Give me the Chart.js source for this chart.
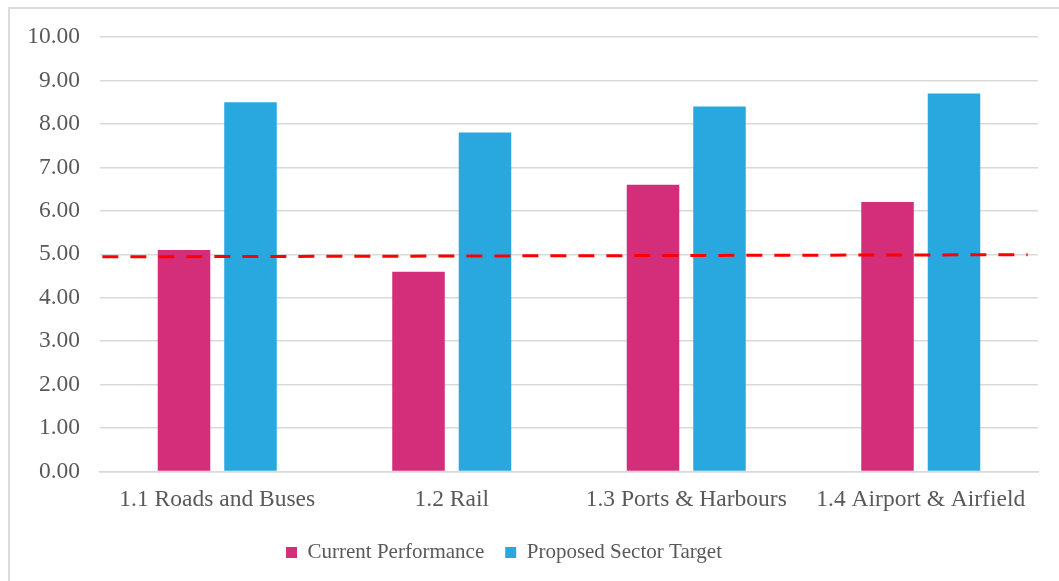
<!DOCTYPE html>
<html>
<head>
<meta charset="utf-8">
<script src="https://cdn.jsdelivr.net/npm/chart.js@4/dist/chart.umd.min.js"></script>
<style>
  html, body { margin: 0; padding: 0; background: #ffffff; }
  #wrap { position: absolute; left: 0; top: 0; width: 1059px; height: 581px; }
  #frame { position: absolute; left: 8px; top: 7px; width: 1060px; height: 580px;
           border-top: 2px solid #dcdcdc; border-left: 2px solid #dcdcdc; pointer-events: none; }
</style>
</head>
<body>
<div id="wrap"><canvas id="c" width="1059" height="581"></canvas></div>
<div id="frame"></div>
<script>
const categories = ['1.1 Roads and Buses', '1.2 Rail', '1.3 Ports & Harbours', '1.4 Airport & Airfield'];
const currentPerformance = [5.1, 4.6, 6.6, 6.2];
const proposedSectorTarget = [8.5, 7.8, 8.4, 8.7];
// benchmark (dashed) line: x in category-axis units, y in value units
const benchmarkX = [-0.49, 3.456];
const benchmarkY = [4.94, 4.99];
const yMin = 0, yMax = 10, yStep = 1;

const textColor = '#595959';
const gridColor = '#d9d9d9';
const serif = '"Liberation Serif", "Times New Roman", serif';

const benchmarkLine = {
  id: 'benchmarkLine',
  afterDatasetsDraw(chart) {
    const xs = chart.scales.x, ys = chart.scales.y, ctx = chart.ctx;
    ctx.save();
    ctx.strokeStyle = '#ff0000';
    ctx.lineWidth = 3;
    ctx.setLineDash([16, 12]);
    ctx.beginPath();
    benchmarkX.forEach((v, i) => {
      const px = xs.getPixelForValue(v), py = ys.getPixelForValue(benchmarkY[i]);
      if (i === 0) ctx.moveTo(px, py); else ctx.lineTo(px, py);
    });
    ctx.stroke();
    ctx.restore();
  }
};

const legendShift = {
  id: 'legendShift',
  afterLayout(chart) {
    const lg = chart.legend;
    if (lg) { lg.left -= 15; lg.right -= 15; }
  }
};

new Chart(document.getElementById('c'), {
  type: 'bar',
  data: {
    labels: categories,
    datasets: [
      {
        label: 'Current Performance',
        data: currentPerformance,
        backgroundColor: '#d42e7b',
        categoryPercentage: 0.567,
        barPercentage: 0.79
      },
      {
        label: 'Proposed Sector Target',
        data: proposedSectorTarget,
        backgroundColor: '#29a8e0',
        categoryPercentage: 0.567,
        barPercentage: 0.79
      }
    ]
  },
  plugins: [benchmarkLine, legendShift],
  options: {
    responsive: false,
    animation: false,
    layout: { padding: { left: 0, right: 21, top: 37, bottom: 8 } },
    plugins: {
      tooltip: { enabled: false },
      legend: {
        position: 'bottom',
        labels: {
          boxWidth: 11,
          boxHeight: 11,
          padding: 21,
          color: textColor,
          font: { family: serif, size: 21 }
        }
      }
    },
    scales: {
      x: {
        offset: true,
        grid: { display: false, drawTicks: false },
        border: { display: true, color: gridColor, width: 1.5 },
        ticks: { color: textColor, padding: 14, font: { family: serif, size: 23.5 }, maxRotation: 0 },
        afterFit: (s) => { s.height = 49.5; }
      },
      y: {
        min: yMin,
        max: yMax,
        ticks: {
          stepSize: yStep,
          color: textColor,
          padding: 20,
          font: { family: serif, size: 23.5 },
          callback: (v) => Number(v).toFixed(2)
        },
        grid: { color: gridColor, lineWidth: 1.5, drawTicks: false },
        border: { display: false },
        afterFit: (s) => { s.width = 100; }
      }
    }
  }
});
</script>
</body>
</html>
